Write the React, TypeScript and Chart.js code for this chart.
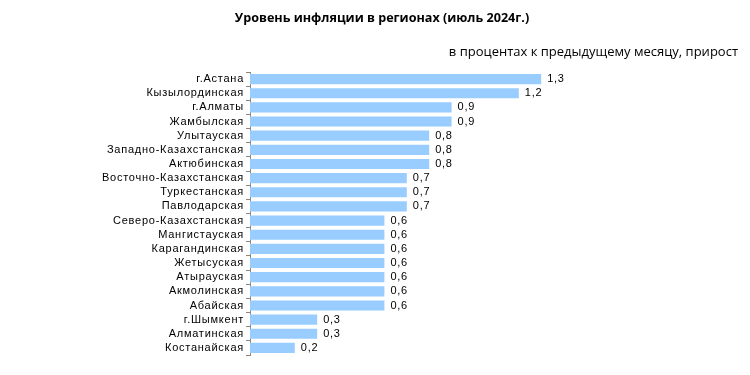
import React, { useEffect, useRef } from "react";
import { Chart, registerables } from "chart.js";

Chart.register(...registerables);

const regions = [
  "г.Астана",
  "Кызылординская",
  "г.Алматы",
  "Жамбылская",
  "Улытауская",
  "Западно-Казахстанская",
  "Актюбинская",
  "Восточно-Казахстанская",
  "Туркестанская",
  "Павлодарская",
  "Северо-Казахстанская",
  "Мангистауская",
  "Карагандинская",
  "Жетысуская",
  "Атырауская",
  "Акмолинская",
  "Абайская",
  "г.Шымкент",
  "Алматинская",
  "Костанайская",
];

const inflation = [1.3, 1.2, 0.9, 0.9, 0.8, 0.8, 0.8, 0.7, 0.7, 0.7, 0.6, 0.6, 0.6, 0.6, 0.6, 0.6, 0.6, 0.3, 0.3, 0.2];

const titleText = "Уровень инфляции в регионах (июль 2024г.)";
const subtitleText = "в процентах к предыдущему месяцу, прирост";

const textPlugin = {
  id: "customText",
  afterDraw(chart: any) {
    const ctx = chart.ctx;
    ctx.save();
    ctx.fillStyle = "#000";
    ctx.textBaseline = "middle";
    ctx.font = "bold 12.6px 'Open Sans', 'Liberation Sans', sans-serif";
    ctx.textAlign = "center";
    ctx.fillText(titleText, 382, 18);
    ctx.font = "13px 'Open Sans', 'Liberation Sans', sans-serif";
    ctx.textAlign = "right";
    ctx.fillText(subtitleText, 738, 52);

    ctx.font = "11px 'Liberation Sans', Arial, sans-serif";
    (ctx as any).letterSpacing = "0.75px";
    const meta = chart.getDatasetMeta(0);
    const yScale = chart.scales.y;
    ctx.textAlign = "right";
    regions.forEach((r, i) => {
      ctx.fillText(r, 244, yScale.getPixelForValue(i));
    });
    ctx.textAlign = "left";
    meta.data.forEach((bar: any, i: number) => {
      const v = inflation[i];
      ctx.fillText(v.toFixed(1).replace(".", ","), bar.x + 6, bar.y);
    });
    ctx.restore();
  },
};

export default function App() {
  const ref = useRef<HTMLCanvasElement | null>(null);
  useEffect(() => {
    if (!ref.current) return;
    const chart = new Chart(ref.current, {
      type: "bar",
      data: {
        labels: regions,
        datasets: [
          {
            data: inflation,
            backgroundColor: "#99ccff",
            borderWidth: 0,
            barPercentage: 0.72,
            categoryPercentage: 1,
          },
        ],
      },
      options: {
        indexAxis: "y",
        responsive: false,
        animation: false,
        layout: { padding: { top: 72, bottom: 20, right: 52, left: 0 } },
        plugins: {
          legend: { display: false },
          tooltip: { enabled: false },
          title: { display: false },
        },
        scales: {
          x: {
            min: 0,
            max: 2,
            display: false,
          },
          y: {
            afterFit(scale: any) {
              scale.width = 250;
            },
            border: { display: true, color: "#888888", width: 1 },
            grid: {
              display: true,
              drawOnChartArea: false,
              drawTicks: true,
              tickLength: 4,
              color: "#888888",
              offset: true,
            },
            ticks: {
              color: "rgba(0,0,0,0)",
              padding: 3,
              autoSkip: false,
              font: { family: "'Liberation Sans', Arial, sans-serif", size: 11 },
            },
          },
        },
      },
      plugins: [textPlugin],
    });
    return () => chart.destroy();
  }, []);
  return (
    <div style={{ position: "absolute", left: 0, top: 0, width: 750, height: 375, background: "#fff" }}>
      <canvas ref={ref} width={750} height={375} />
    </div>
  );
}
